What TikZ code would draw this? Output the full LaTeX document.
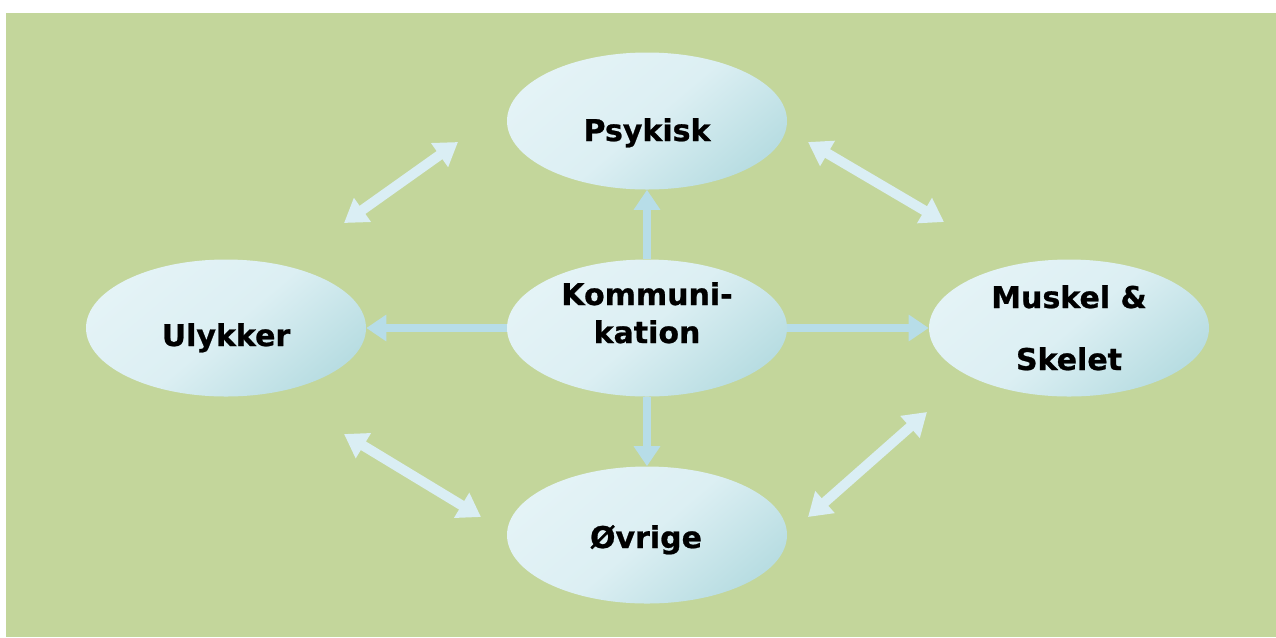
\documentclass[tikz,border=0pt]{standalone}
\usepackage{fontspec}
\newfontfamily\dvb{DejaVu Sans}[BoldFeatures={FakeBold=0.8}]
\usetikzlibrary{shapes.geometric,arrows.meta}
\definecolor{bggreen}{HTML}{C3D69B}
\definecolor{elllight}{HTML}{E4F3F6}
\definecolor{ellmid}{HTML}{DCEFF3}
\definecolor{elldark}{HTML}{B8DDE2}
\definecolor{arrstraight}{HTML}{B7DDE8}
\definecolor{arrdiag}{HTML}{DAEEF4}
\tikzset{
  blob/.style={ellipse, minimum width=210pt, minimum height=102.75pt, inner sep=0pt,
    top color=elllight, bottom color=elldark, middle color=ellmid, shading angle=40},
  lbl/.style={anchor=base, align=center, inner sep=0pt,
    font=\dvb\bfseries\fontsize{22.5}{28.5}\selectfont},
  straightarr/.style={draw=arrstraight, line width=6.5pt, -{Triangle[width=19pt,length=15pt]}},
  diagarr/.style={draw=arrdiag, line width=7.5pt, {Triangle[width=21pt,length=17pt]}-{Triangle[width=21pt,length=17pt]}}
}
\begin{document}
\begin{tikzpicture}[x=0.75pt,y=-0.75pt]
\useasboundingbox (0,0) rectangle (1276,637);
\fill[bggreen] (6,13) rectangle (1276,637);

\node[blob] (p) at (647,121) {};
\node[blob] (k) at (647,328) {};
\node[blob] (u) at (226,328) {};
\node[blob] (m) at (1069,328) {};
\node[blob] (o) at (647,535) {};

\node[lbl] (pt) at (647,141) {Psykisk};
\node[lbl] (kt) at (647,343) {Kommuni-\\kation};
\node[lbl] (ut) at (226,346) {Ulykker};
\node[lbl, font=\dvb\bfseries\fontsize{22.5}{46.5}\selectfont] (mt) at (1069,370) {Muskel \&\\Skelet};
\node[lbl] (ot) at (646,548) {Øvrige};

\draw[straightarr] (k.north) -- (p.south);
\draw[straightarr] (k.west) -- (u.east);
\draw[straightarr] (k.east) -- (m.west);
\draw[straightarr] (k.south) -- (o.north);

\coordinate (ula) at (344,223);
\coordinate (ulb) at (458,142);
\coordinate (ura) at (808,142);
\coordinate (urb) at (944,222);
\coordinate (lla) at (344,434);
\coordinate (llb) at (481,517);
\coordinate (lra) at (808,517);
\coordinate (lrb) at (927,412);

\draw[diagarr] (ula) -- (ulb);
\draw[diagarr] (ura) -- (urb);
\draw[diagarr] (lla) -- (llb);
\draw[diagarr] (lra) -- (lrb);
\end{tikzpicture}
\end{document}
